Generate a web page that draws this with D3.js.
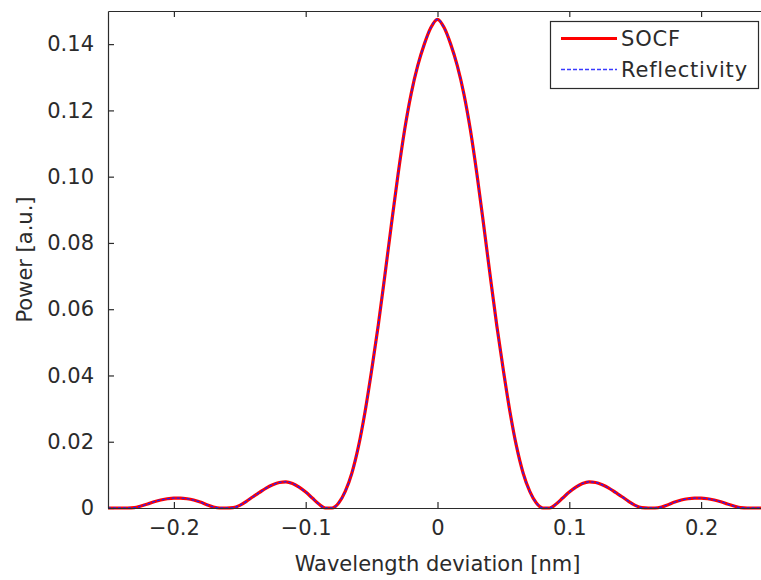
<!DOCTYPE html>
<html>
<head>
<meta charset="utf-8">
<script src="https://cdn.jsdelivr.net/npm/d3@7"></script>
<style>
  html, body { margin: 0; padding: 0; background: #fff; overflow: hidden; }
  svg { display: block; font-family: "DejaVu Sans", sans-serif; }
</style>
</head>
<body>
<svg id="chart" width="761" height="580"></svg>
<script>
// Wavelength deviation [nm]
const wavelength = [
  -0.250, -0.245, -0.240, -0.235, -0.230, -0.225, -0.220, -0.215, -0.210, -0.205,
  -0.200, -0.195, -0.190, -0.185, -0.180, -0.175, -0.170, -0.165, -0.160, -0.155,
  -0.150, -0.145, -0.140, -0.135, -0.130, -0.125, -0.120, -0.115, -0.110, -0.105,
  -0.100, -0.095, -0.090, -0.085, -0.080, -0.075, -0.070, -0.065, -0.060, -0.055,
  -0.050, -0.045, -0.040, -0.035, -0.030, -0.025, -0.020, -0.015, -0.010, -0.005,
   0.000,
   0.005,  0.010,  0.015,  0.020,  0.025,  0.030,  0.035,  0.040,  0.045,  0.050,
   0.055,  0.060,  0.065,  0.070,  0.075,  0.080,  0.085,  0.090,  0.095,  0.100,
   0.105,  0.110,  0.115,  0.120,  0.125,  0.130,  0.135,  0.140,  0.145,  0.150,
   0.155,  0.160,  0.165,  0.170,  0.175,  0.180,  0.185,  0.190,  0.195,  0.200,
   0.205,  0.210,  0.215,  0.220,  0.225,  0.230,  0.235,  0.240,  0.245,  0.250
];

// SOCF output power [a.u.]
const socfPower = [
  0.0000, 0.0000, 0.0000, 0.0000, 0.0001, 0.0006, 0.0012, 0.0019, 0.0024, 0.0028,
  0.0030, 0.0030, 0.0028, 0.0024, 0.0018, 0.0010, 0.0003, 0.0000, 0.0000, 0.0001,
  0.0008, 0.0020, 0.0034, 0.0047, 0.0060, 0.0070, 0.0077, 0.0079, 0.0074, 0.0063,
  0.0048, 0.0030, 0.0012, 0.0000, 0.0000, 0.0015, 0.0050, 0.0105, 0.0185, 0.0290,
  0.0415, 0.0550, 0.0700, 0.0855, 0.1005, 0.1140, 0.1250, 0.1335, 0.1400, 0.1450,
  0.1475,
  0.1450, 0.1400, 0.1335, 0.1250, 0.1140, 0.1005, 0.0855, 0.0700, 0.0550, 0.0415,
  0.0290, 0.0185, 0.0105, 0.0050, 0.0015, 0.0000, 0.0000, 0.0012, 0.0030, 0.0048,
  0.0063, 0.0074, 0.0079, 0.0077, 0.0070, 0.0060, 0.0047, 0.0034, 0.0020, 0.0008,
  0.0001, 0.0000, 0.0000, 0.0003, 0.0010, 0.0018, 0.0024, 0.0028, 0.0030, 0.0030,
  0.0028, 0.0024, 0.0019, 0.0012, 0.0006, 0.0001, 0.0000, 0.0000, 0.0000, 0.0000
];

// Grating reflectivity spectrum [a.u.]
const reflectivity = [
  0.0000, 0.0000, 0.0000, 0.0000, 0.0001, 0.0006, 0.0012, 0.0019, 0.0024, 0.0028,
  0.0030, 0.0030, 0.0028, 0.0024, 0.0018, 0.0010, 0.0003, 0.0000, 0.0000, 0.0001,
  0.0008, 0.0020, 0.0034, 0.0047, 0.0060, 0.0070, 0.0077, 0.0079, 0.0074, 0.0063,
  0.0048, 0.0030, 0.0012, 0.0000, 0.0000, 0.0015, 0.0050, 0.0105, 0.0185, 0.0290,
  0.0415, 0.0550, 0.0700, 0.0855, 0.1005, 0.1140, 0.1250, 0.1335, 0.1400, 0.1450,
  0.1475,
  0.1450, 0.1400, 0.1335, 0.1250, 0.1140, 0.1005, 0.0855, 0.0700, 0.0550, 0.0415,
  0.0290, 0.0185, 0.0105, 0.0050, 0.0015, 0.0000, 0.0000, 0.0012, 0.0030, 0.0048,
  0.0063, 0.0074, 0.0079, 0.0077, 0.0070, 0.0060, 0.0047, 0.0034, 0.0020, 0.0008,
  0.0001, 0.0000, 0.0000, 0.0003, 0.0010, 0.0018, 0.0024, 0.0028, 0.0030, 0.0030,
  0.0028, 0.0024, 0.0019, 0.0012, 0.0006, 0.0001, 0.0000, 0.0000, 0.0000, 0.0000
];

const xTicks = [-0.2, -0.1, 0, 0.1, 0.2];
const xTickLabels = ["\u22120.2", "\u22120.1", "0", "0.1", "0.2"];
const yTicks = [0, 0.02, 0.04, 0.06, 0.08, 0.10, 0.12, 0.14];
const yTickLabels = ["0", "0.02", "0.04", "0.06", "0.08", "0.10", "0.12", "0.14"];
const legendLabels = ["SOCF", "Reflectivity"];

const box = { left: 108, top: 11, right: 767, bottom: 508 };
const axisColor = "#2b2b2b";
const textColor = "#2b2b2b";
const fontSize = 21;

const svg = d3.select("#chart");

const x = d3.scaleLinear().domain([-0.25, 0.25]).range([box.left, box.right]);
const y = d3.scaleLinear().domain([0, 0.15]).range([box.bottom, box.top]);

// Axes with inward ticks on all sides
const tickLen = 6;
const bottomAxis = d3.axisBottom(x).tickValues(xTicks)
  .tickFormat((d, i) => xTickLabels[i]).tickSizeInner(-tickLen).tickSizeOuter(0).tickPadding(12);
const topAxis = d3.axisTop(x).tickValues(xTicks).tickFormat("").tickSizeInner(-tickLen).tickSizeOuter(0);
const leftAxis = d3.axisLeft(y).tickValues(yTicks)
  .tickFormat((d, i) => yTickLabels[i]).tickSizeInner(-tickLen).tickSizeOuter(0).tickPadding(14);
const rightAxis = d3.axisRight(y).tickValues(yTicks).tickFormat("").tickSizeInner(-tickLen).tickSizeOuter(0);

function styleAxis(g) {
  g.selectAll("path.domain").attr("stroke", axisColor).attr("stroke-width", 1.2);
  g.selectAll(".tick line").attr("stroke", axisColor).attr("stroke-width", 1.2);
  g.selectAll(".tick text")
    .attr("fill", textColor)
    .style("font-size", fontSize + "px")
    .style("font-family", "'DejaVu Sans', sans-serif");
}

// Curves, clipped to the plot box
svg.append("defs").append("clipPath").attr("id", "plot-clip")
  .append("rect")
  .attr("x", box.left).attr("y", box.top - 2)
  .attr("width", box.right - box.left).attr("height", box.bottom - box.top + 4);

const line = d3.line()
  .x((d, i) => x(wavelength[i]))
  .y(d => y(d))
  .curve(d3.curveMonotoneX);

const plot = svg.append("g").attr("clip-path", "url(#plot-clip)");
plot.append("path").datum(socfPower)
  .attr("d", line)
  .attr("fill", "none")
  .attr("stroke", "#ff0000")
  .attr("stroke-width", 3.2)
  .attr("stroke-linejoin", "round");
plot.append("path").datum(reflectivity)
  .attr("d", line)
  .attr("fill", "none")
  .attr("stroke", "#1f1fff")
  .attr("stroke-width", 1.3)
  .attr("stroke-dasharray", "3,2");

svg.append("g").attr("transform", `translate(0,${box.bottom})`).call(bottomAxis).call(styleAxis);
svg.append("g").attr("transform", `translate(0,${box.top})`).call(topAxis).call(styleAxis);
svg.append("g").attr("transform", `translate(${box.left},0)`).call(leftAxis).call(styleAxis);
svg.append("g").attr("transform", `translate(${box.right},0)`).call(rightAxis).call(styleAxis);

// Axis titles
svg.append("text")
  .attr("x", x(0)).attr("y", 571)
  .attr("text-anchor", "middle")
  .attr("fill", textColor)
  .style("font-size", fontSize + "px")
  .text("Wavelength deviation [nm]");

svg.append("text")
  .attr("transform", `translate(32,${(box.top + box.bottom) / 2}) rotate(-90)`)
  .attr("text-anchor", "middle")
  .attr("fill", textColor)
  .style("font-size", fontSize + "px")
  .text("Power [a.u.]");

// Legend
const legend = svg.append("g");
legend.append("rect")
  .attr("x", 550.5).attr("y", 21.5)
  .attr("width", 208).attr("height", 67)
  .attr("fill", "#fff")
  .attr("stroke", axisColor)
  .attr("stroke-width", 1.2);

const legendStyles = [
  { stroke: "#ff0000", width: 3.2, dash: null, y: 38.5 },
  { stroke: "#3a3aff", width: 1.5, dash: "4,2", y: 69.5 }
];
legendLabels.forEach((label, i) => {
  const ly = legendStyles[i].y;
  legend.append("line")
    .attr("x1", 561).attr("x2", 617)
    .attr("y1", ly).attr("y2", ly)
    .attr("stroke", legendStyles[i].stroke)
    .attr("stroke-width", legendStyles[i].width)
    .attr("stroke-dasharray", legendStyles[i].dash);
  legend.append("text")
    .attr("x", 621).attr("y", ly)
    .attr("dy", "0.36em")
    .attr("fill", textColor)
    .style("font-size", fontSize + "px")
    .style("letter-spacing", "0.8px")
    .text(label);
});
</script>
</body>
</html>
